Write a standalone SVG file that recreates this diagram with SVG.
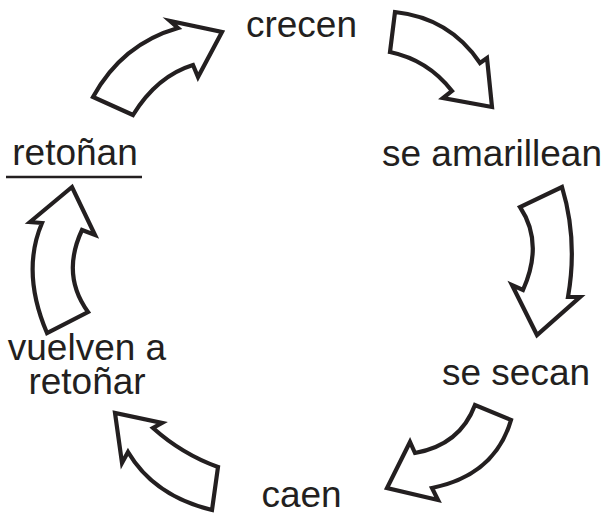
<svg xmlns="http://www.w3.org/2000/svg" width="608" height="515" viewBox="0 0 608 515">
<style>
.lbl{font-family:"Liberation Sans",Arial,sans-serif;font-size:37px;fill:#231f20;text-anchor:middle}
.arr{fill:#ffffff;stroke:#231f20;stroke-width:4.2;stroke-linejoin:miter;stroke-miterlimit:10}
</style>
<rect width="608" height="515" fill="#ffffff"/>
<g id="connectors">
<path class="arr" d="M93,97 Q122,44 178,28 L170,21 L222,32 L198,77 L193,65 Q157,76 133,115 Z"/>
<path class="arr" d="M395,12 Q450,18 480,63 L487,58 L492,107 L443,98 L452,91 Q428,60 390,52 Z"/>
<path class="arr" d="M562,187 Q578,240 568,297 L580,297 L537,335 L512,285 L523,290 Q544,243 520,207 Z"/>
<path class="arr" d="M475,405 Q460,445 415,453 L410,442 L387,488 L438,500 L432,488 Q495,475 511,420 Z"/>
<path class="arr" d="M218,467 Q182,454 153,428 L162,423 L115,413 L122,463 L128,452 Q154,496 212,510 Z"/>
<path class="arr" d="M47,333 Q21,272 42,223 L30,222 L72,187 L95,235 L82,230 Q61,275 88,312 Z"/>
</g>
<g id="node-crecen"><text class="lbl" x="301.5" y="37">crecen</text></g>
<g id="node-se-amarillean"><text class="lbl" x="492" y="166">se amarillean</text></g>
<g id="node-se-secan"><text class="lbl" x="516" y="385">se secan</text></g>
<g id="node-caen"><text class="lbl" x="301.5" y="507">caen</text></g>
<g id="node-vuelven"><text class="lbl" x="87" y="360">vuelven a</text><text class="lbl" x="87" y="394">retoñar</text></g>
<g id="node-retonan"><text class="lbl" x="75" y="165">retoñan</text><line x1="6" y1="177" x2="142" y2="177" stroke="#231f20" stroke-width="2.5"/></g>
</svg>
